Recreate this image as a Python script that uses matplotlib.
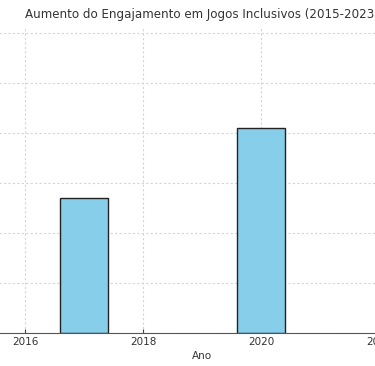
import matplotlib.pyplot as plt

# Data (values in arbitrary units)
years = [2017, 2020]
engagement = [27, 41]
xticks = [2016, 2018, 2020, 2022]
yticks = [0, 10, 20, 30, 40, 50, 60]

fig = plt.figure(figsize=(3.75, 3.66), dpi=100)
# axes extend past the left/right edges, as in the reference crop
ax = fig.add_axes([-34 / 375, 33 / 366, 472 / 375, 305 / 366])

ax.bar(years, engagement, width=0.8, color='skyblue', edgecolor='#222222', linewidth=1)

ax.set_xlim(2015, 2023)
ax.set_ylim(0, 61)
ax.set_xticks(xticks)
ax.set_yticks(yticks)
ax.tick_params(axis='x', labelsize=7.5, direction='in', length=3, color='#444444',
               labelcolor='#333333', pad=3)
ax.tick_params(axis='y', left=False, labelleft=False)
ax.grid(True, linestyle=(0, (2, 2)), color='#d5d5d5', linewidth=0.8)
ax.set_axisbelow(True)
for side in ['top', 'left', 'right']:
    ax.spines[side].set_visible(False)
ax.spines['bottom'].set_color('#555555')

ax.set_xlabel('Ano', fontsize=7.5, color='#333333', labelpad=3)
ax.set_title('Aumento do Engajamento em Jogos Inclusivos (2015-2023)',
             fontsize=8.6, color='#333333', pad=7)

fig.savefig('out.png', dpi=100)
